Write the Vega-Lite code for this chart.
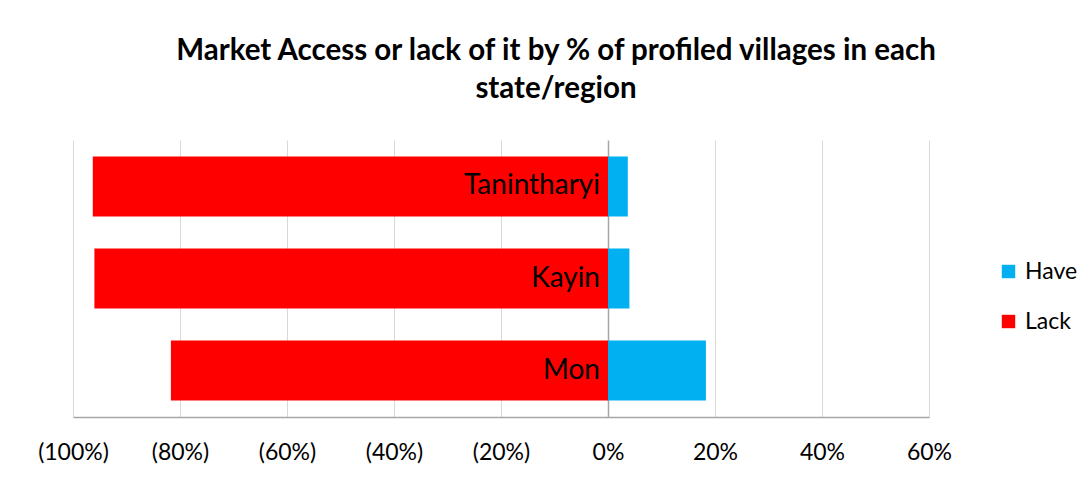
{
  "$schema": "https://vega.github.io/schema/vega-lite/v6.json",
  "autosize": {"type": "none"},
  "width": 856,
  "height": 277,
  "padding": {"left": 73, "top": 140, "right": 162, "bottom": 63},
  "background": "white",
  "title": {
    "text": ["Market Access or lack of it by % of profiled villages in each", "state/region"],
    "font": "Lato",
    "fontSize": 29.5,
    "fontWeight": "bold",
    "color": "#000000",
    "lineHeight": 38,
    "anchor": "middle",
    "dx": 55,
    "offset": 36
  },
  "data": {
    "values": [
      {"region": "Tanintharyi", "status": "Have", "pct": 3.7},
      {"region": "Tanintharyi", "status": "Lack", "pct": -96.3},
      {"region": "Kayin", "status": "Have", "pct": 4.0},
      {"region": "Kayin", "status": "Lack", "pct": -96.0},
      {"region": "Mon", "status": "Have", "pct": 18.3},
      {"region": "Mon", "status": "Lack", "pct": -81.7}
    ]
  },
  "encoding": {
    "y": {
      "field": "region",
      "type": "nominal",
      "sort": ["Tanintharyi", "Kayin", "Mon"],
      "scale": {"paddingInner": 0.35, "paddingOuter": 0.18},
      "axis": null
    }
  },
  "layer": [
    {
      "mark": {"type": "bar"},
      "encoding": {
        "x": {
          "field": "pct",
          "type": "quantitative",
          "stack": "zero",
          "scale": {"domain": [-100, 60], "nice": false, "zero": false},
          "axis": {
            "title": null,
            "values": [-100, -80, -60, -40, -20, 0, 20, 40, 60],
            "labelExpr": "datum.value < 0 ? '(' + (-datum.value) + '%)' : datum.value + '%'",
            "labelFont": "Lato",
            "labelFontSize": 23,
            "labelColor": "#000000",
            "labelPadding": 24,
            "labelFlush": false,
            "labelBound": false,
            "labelOverlap": false,
            "ticks": false,
            "domainColor": "#a6a6a6",
            "domainWidth": 1.5,
            "grid": true,
            "gridColor": {"condition": {"test": "datum.value === 0", "value": "#a6a6a6"}, "value": "#d9d9d9"},
            "gridWidth": {"condition": {"test": "datum.value === 0", "value": 1.5}, "value": 1}
          }
        },
        "color": {
          "field": "status",
          "type": "nominal",
          "scale": {"domain": ["Have", "Lack"], "range": ["#00b0f0", "#ff0000"]},
          "legend": {
            "title": null,
            "orient": "none",
            "legendX": 924,
            "legendY": 120,
            "symbolType": "square",
            "symbolSize": 180,
            "symbolStrokeWidth": 0,
            "labelFont": "Lato",
            "labelFontSize": 23,
            "labelColor": "#000000",
            "rowPadding": 26,
            "labelOffset": 5
          }
        }
      }
    },
    {
      "transform": [{"filter": "datum.status === 'Lack'"}],
      "mark": {"type": "text", "align": "right", "baseline": "middle", "dx": -8, "font": "Lato", "fontSize": 28, "color": "#000000"},
      "encoding": {
        "x": {"datum": 0, "type": "quantitative"},
        "text": {"field": "region"}
      }
    }
  ],
  "config": {
    "view": {"stroke": null}
  }
}
